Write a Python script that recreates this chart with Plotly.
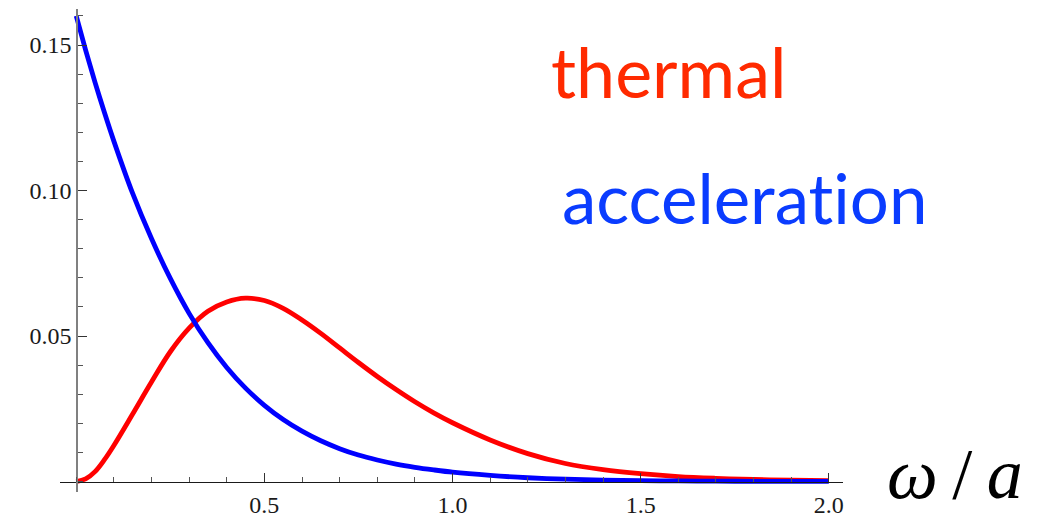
import plotly.graph_objects as go

# ---- data ----
x_vals = [0.000, 0.025, 0.050, 0.075, 0.10, 0.15, 0.20, 0.25, 0.30, 0.35, 0.40, 0.45,
          0.50, 0.55, 0.60, 0.65, 0.70, 0.75, 0.80, 0.85, 0.90, 0.95,
          1.00, 1.10, 1.20, 1.30, 1.40, 1.50, 1.60, 1.70, 1.80, 1.90, 2.00]

thermal = [0.0000, 0.0009, 0.0034, 0.0075, 0.0124, 0.0232, 0.0342, 0.0446, 0.0527, 0.0585, 0.0617, 0.0630,
           0.0622, 0.0595, 0.0555, 0.0509, 0.0459, 0.0409, 0.0361, 0.0316, 0.0274, 0.0236,
           0.0202, 0.0143, 0.0096, 0.0062, 0.0041, 0.0027, 0.0017, 0.0011, 0.0007, 0.00045, 0.0003]

acceleration = [0.1600, 0.1483, 0.1372, 0.1268, 0.1170, 0.0990, 0.0835, 0.0698, 0.0578, 0.0477, 0.0392, 0.0321,
                0.0262, 0.0213, 0.0173, 0.0140, 0.0113, 0.0091, 0.0074, 0.0060, 0.0049, 0.0040,
                0.0032, 0.0021, 0.0013, 0.0008, 0.0005, 0.0003, 0.0002, 0.00013, 0.00008, 0.00005, 0.00003]

x_major = [0.5, 1.0, 1.5, 2.0]
x_major_text = ["0.5", "1.0", "1.5", "2.0"]
y_major = [0.05, 0.10, 0.15]
y_major_text = ["0.05", "0.10", "0.15"]

label_thermal = "thermal"
label_accel = "accelerat\u200Cion"
label_x = "<i>ω</i>\u2009/\u2009<i>a</i>"

# ---- layout geometry (page body has an 8px default margin) ----
BODY = 8
WIN_W, WIN_H = 1048, 517
W, H = WIN_W - BODY, WIN_H - BODY
PLOT_L, PLOT_R, PLOT_T, PLOT_B = 60, 843, 9, 492      # window pixels
ML, MT = PLOT_L - BODY, PLOT_T - BODY
MR, MB = W - (PLOT_R - BODY), H - (PLOT_B - BODY)
x_range = [-0.0431, 2.0377]
y_range = [-0.0036, 0.1624]
pw, ph = PLOT_R - PLOT_L, PLOT_B - PLOT_T


def px_to_paper(px, py):
    return (px - PLOT_L) / pw, (PLOT_B - py) / ph


fig = go.Figure()
fig.add_trace(go.Scatter(x=x_vals, y=thermal, mode="lines",
                         line=dict(color="#FF0000", width=4.8, shape="spline", smoothing=1.0),
                         hoverinfo="skip", showlegend=False))
fig.add_trace(go.Scatter(x=x_vals, y=acceleration, mode="lines",
                         line=dict(color="#0000FF", width=4.8, shape="spline", smoothing=0.8),
                         hoverinfo="skip", showlegend=False))

tick_font = dict(family="Liberation Serif", size=24, color="#1a1a1a")

fig.update_layout(
    width=W, height=H,
    margin=dict(l=ML, r=MR, t=MT, b=MB, autoexpand=False),
    paper_bgcolor="white", plot_bgcolor="white",
    showlegend=False,
    xaxis=dict(
        range=x_range, anchor="free", side="bottom", automargin=False,
        position=(0 - y_range[0]) / (y_range[1] - y_range[0]),
        showgrid=False, zeroline=False,
        showline=True, linecolor="#1a1a1a", linewidth=1.3,
        tickmode="array", tickvals=x_major, ticktext=x_major_text,
        ticks="inside", ticklen=9, tickwidth=1, tickcolor="#333333",
        tickfont=tick_font, ticklabelstandoff=1,
        minor=dict(dtick=0.1, tick0=0, ticks="inside", ticklen=5,
                   tickwidth=1, tickcolor="#555555", showgrid=False),
    ),
    yaxis=dict(
        range=y_range, anchor="free", side="left", automargin=False,
        position=(0 - x_range[0]) / (x_range[1] - x_range[0]),
        showgrid=False, zeroline=False,
        showline=True, linecolor="#808080", linewidth=1.5,
        tickmode="array", tickvals=y_major, ticktext=y_major_text,
        ticks="inside", ticklen=9, tickwidth=1, tickcolor="#333333",
        tickfont=tick_font, ticklabelstandoff=0,
        minor=dict(dtick=0.01, tick0=0, ticks="inside", ticklen=5,
                   tickwidth=1, tickcolor="#555555", showgrid=False),
    ),
)

ax, ay = px_to_paper(549, 71)
fig.add_annotation(text=label_thermal, xref="paper", yref="paper", x=ax, y=ay,
                   xanchor="left", yanchor="middle", showarrow=False,
                   font=dict(family="Lato", size=70, color="#FF2A00"))
ax, ay = px_to_paper(560, 198)
fig.add_annotation(text=label_accel, xref="paper", yref="paper", x=ax, y=ay,
                   xanchor="left", yanchor="middle", showarrow=False,
                   font=dict(family="Lato", size=69, color="#0A3CFF"))
ax, ay = px_to_paper(955, 474)
fig.add_annotation(text=label_x, xref="paper", yref="paper", x=ax, y=ay,
                   xanchor="center", yanchor="middle", showarrow=False,
                   font=dict(family="Liberation Serif", size=72, color="#000000"))

fig.write_html("out.html", config=dict(displayModeBar=False, staticPlot=True))
